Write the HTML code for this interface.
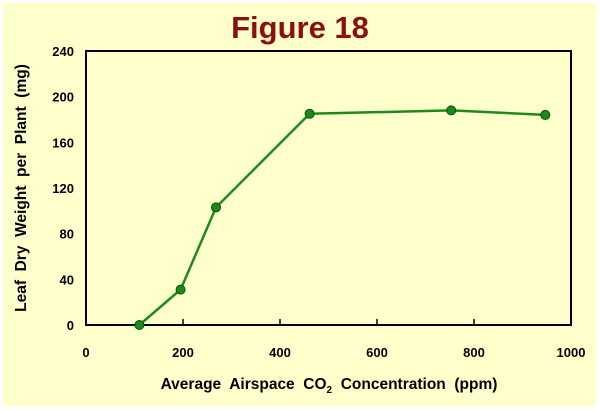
<!DOCTYPE html>
<html><head><meta charset="utf-8"><style>
body{margin:0;background:#fff;}
svg{display:block;font-family:"Liberation Sans",Arial,sans-serif;font-weight:bold;}
</style></head><body>
<svg id="chart" width="600" height="410">
<rect x="3" y="3" width="593" height="403" fill="#ffffcc"/>
<text x="300" y="38" text-anchor="middle" font-size="31" fill="#8b0f0f">Figure 18</text>
<rect x="86" y="51" width="485" height="274" fill="none" stroke="#000" stroke-width="2"/>
<g id="xt"></g><g id="yt"></g><g id="series"></g>
<text x="329" y="389" text-anchor="middle" font-size="15.5" fill="#000">Average&#160; Airspace&#160; CO<tspan font-size="10" dy="4">2</tspan><tspan dy="-4">&#160; Concentration&#160; (ppm)</tspan></text>
<text transform="translate(26,188) rotate(-90)" text-anchor="middle" font-size="15.5" fill="#000">Leaf&#160; Dry&#160; Weight&#160; per&#160; Plant&#160; (mg)</text>
</svg>
<script>
const xVals=[110,195,268,461,753,947];
const yVals=[0,31,103,185,188,184];
const xTicks=[0,200,400,600,800,1000];
const yTicks=[0,40,80,120,160,200,240];
const NS="http://www.w3.org/2000/svg";
const X=v=>86+v/1000*485, Y=v=>325-v/240*274;
function mk(t,a,p){const e=document.createElementNS(NS,t);for(const k in a)e.setAttribute(k,a[k]);p.appendChild(e);return e;}
const xt=document.getElementById('xt'),yt=document.getElementById('yt'),s=document.getElementById('series');
xTicks.forEach(v=>{
 if(v>0&&v<1000){const l=mk('line',{x1:X(v),x2:X(v),y1:325,y2:319,stroke:'#000','stroke-width':1.5},xt);
 
 }
 const t=mk('text',{x:X(v),y:357,'text-anchor':'middle','font-size':13},xt);t.textContent=v;
 
 
});
yTicks.forEach(v=>{
 const t=mk('text',{x:74,y:Y(v)+5,'text-anchor':'end','font-size':13},yt);t.textContent=v;
 
 
});
const pl=mk('polyline',{points:xVals.map((x,i)=>X(x)+','+Y(yVals[i])).join(' '),fill:'none',stroke:'#1e8a1e','stroke-width':2.5},s);


xVals.forEach((x,i)=>{
 const c=mk('circle',{cx:X(x),cy:Y(yVals[i]),r:4.5,fill:'#1a8a1a',stroke:'#0b4d0b','stroke-width':1},s);
 
 
});
</script>
</body></html>
